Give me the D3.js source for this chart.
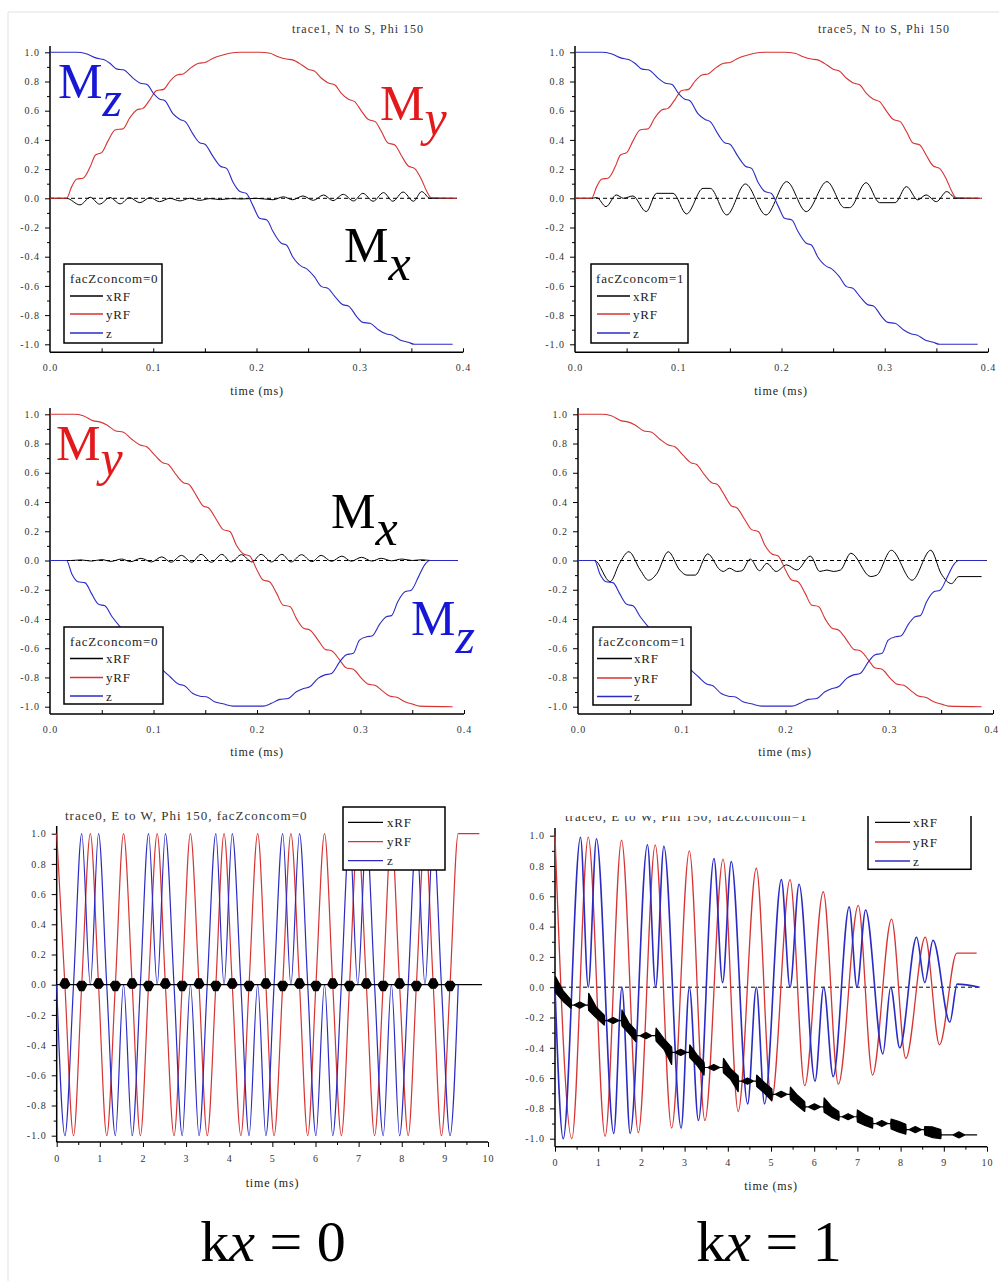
<!DOCTYPE html>
<html><head><meta charset="utf-8">
<script src="https://cdn.jsdelivr.net/npm/d3@7"></script>
<style>
body{margin:0;background:#fff}
svg{display:block}
text{font-family:"Liberation Serif","Times New Roman",serif;white-space:pre}
</style>
</head><body>
<svg id="c" width="999" height="1281"></svg>
<script>
// ---------------- DATA ----------------
const yTickVals = [1.0,0.8,0.6,0.4,0.2,0.0,-0.2,-0.4,-0.6,-0.8,-1.0];
const yMinorVals = [0.9,0.7,0.5,0.3,0.1,-0.1,-0.3,-0.5,-0.7,-0.9];
const topTimeTicks = [0,0.1,0.2,0.3,0.4];
const topTimeMinor = [0.05,0.1,0.15,0.2,0.25,0.3,0.35,0.4];
const ewTimeTicks = [0,1,2,3,4,5,6,7,8,9,10];
const ewTimeMinor = [0.5,1.5,2.5,3.5,4.5,5.5,6.5,7.5,8.5,9.5];
const seriesNames = ["xRF","yRF","z"];

// N to S traces (top row): yRF rises 0->1->0, z falls 1->-1
const nsMyRise = [[0,0],[0.016,0],[0.021,0.08],[0.026,0.132],[0.032,0.137],[0.039,0.217],[0.044,0.297],[0.05,0.313],[0.056,0.39],[0.063,0.468],[0.071,0.477],[0.077,0.548],[0.084,0.605],[0.09,0.616],[0.097,0.678],[0.103,0.737],[0.11,0.746],[0.116,0.8],[0.123,0.845],[0.129,0.852],[0.137,0.897],[0.144,0.925],[0.15,0.93],[0.158,0.96],[0.165,0.977],[0.174,0.993],[0.184,1.0],[0.203,1.0],[0.213,0.993],[0.221,0.97],[0.229,0.954],[0.235,0.948],[0.244,0.913],[0.25,0.884],[0.256,0.872],[0.263,0.822],[0.269,0.792],[0.276,0.776],[0.282,0.72],[0.289,0.678],[0.295,0.662],[0.302,0.594],[0.308,0.541],[0.315,0.525],[0.321,0.457],[0.327,0.381],[0.334,0.365],[0.34,0.297],[0.347,0.221],[0.353,0.205],[0.36,0.126],[0.365,0.046],[0.369,0.005],[0.394,0]];
const nsMzFall = [[0,1.0],[0.026,1.0],[0.035,0.99],[0.045,0.96],[0.052,0.95],[0.058,0.925],[0.065,0.885],[0.071,0.88],[0.081,0.82],[0.087,0.79],[0.094,0.78],[0.1,0.72],[0.106,0.68],[0.111,0.67],[0.119,0.58],[0.126,0.54],[0.131,0.525],[0.139,0.434],[0.145,0.38],[0.15,0.37],[0.158,0.285],[0.165,0.22],[0.171,0.205],[0.177,0.114],[0.184,0.046],[0.19,0.034],[0.197,-0.057],[0.203,-0.137],[0.21,-0.148],[0.216,-0.228],[0.224,-0.308],[0.229,-0.32],[0.235,-0.4],[0.244,-0.468],[0.248,-0.48],[0.256,-0.537],[0.263,-0.605],[0.269,-0.616],[0.276,-0.673],[0.284,-0.73],[0.289,-0.737],[0.297,-0.81],[0.303,-0.85],[0.31,-0.856],[0.318,-0.9],[0.326,-0.93],[0.331,-0.936],[0.339,-0.97],[0.347,-0.986],[0.353,-1.0],[0.39,-1.0]];
const ns0MxRF = [[0,0],[0.016,0],[0.029,-0.045],[0.039,0.007],[0.048,-0.04],[0.058,0.005],[0.068,-0.038],[0.077,0.005],[0.087,-0.03],[0.097,0.005],[0.106,-0.023],[0.116,0],[0.126,-0.018],[0.135,0],[0.145,-0.014],[0.155,-0.002],[0.165,-0.009],[0.175,-0.002],[0.185,-0.005],[0.2,0],[0.216,-0.01],[0.226,0.01],[0.235,-0.01],[0.245,0.016],[0.255,-0.014],[0.265,0.023],[0.274,-0.016],[0.284,0.027],[0.294,-0.018],[0.303,0.034],[0.313,-0.02],[0.323,0.039],[0.332,-0.02],[0.342,0.043],[0.352,-0.02],[0.36,0.046],[0.368,0],[0.394,0]];
const ns1MxRF = [[0,0],[0.016,0],[0.021,0.005],[0.03,-0.057],[0.04,0.023],[0.047,0],[0.056,0.016],[0.069,-0.091],[0.079,0.034],[0.095,0.034],[0.108,-0.107],[0.124,0.068],[0.131,0.068],[0.147,-0.114],[0.165,0.098],[0.185,-0.114],[0.205,0.114],[0.224,-0.091],[0.244,0.114],[0.261,-0.064],[0.266,-0.064],[0.282,0.107],[0.295,-0.03],[0.31,-0.03],[0.321,0.08],[0.332,-0.011],[0.34,0.023],[0.35,-0.023],[0.36,0.046],[0.369,0],[0.392,0]];

// second row: yRF falls 1->-1, z dips 0->-1->0
const ns2MyFall = [[0,1],[0.023,1],[0.032,0.99],[0.042,0.955],[0.048,0.948],[0.055,0.927],[0.063,0.888],[0.071,0.877],[0.079,0.829],[0.087,0.79],[0.093,0.779],[0.101,0.722],[0.109,0.669],[0.114,0.658],[0.122,0.585],[0.129,0.532],[0.134,0.521],[0.142,0.437],[0.148,0.373],[0.153,0.361],[0.161,0.277],[0.167,0.213],[0.174,0.197],[0.18,0.106],[0.187,0.045],[0.193,0.031],[0.2,-0.065],[0.206,-0.134],[0.212,-0.145],[0.219,-0.225],[0.225,-0.304],[0.232,-0.316],[0.238,-0.396],[0.245,-0.464],[0.251,-0.475],[0.259,-0.544],[0.266,-0.608],[0.272,-0.617],[0.28,-0.681],[0.286,-0.733],[0.293,-0.744],[0.301,-0.806],[0.307,-0.845],[0.314,-0.854],[0.322,-0.897],[0.328,-0.927],[0.335,-0.936],[0.343,-0.966],[0.351,-0.984],[0.357,-0.996],[0.389,-1.0]];
const ns2MzDip = [[0,0],[0.016,0],[0.021,-0.09],[0.027,-0.145],[0.034,-0.153],[0.04,-0.225],[0.047,-0.3],[0.053,-0.31],[0.06,-0.385],[0.068,-0.455],[0.074,-0.5],[0.08,-0.53],[0.087,-0.6],[0.093,-0.66],[0.1,-0.68],[0.109,-0.75],[0.116,-0.795],[0.124,-0.845],[0.13,-0.857],[0.138,-0.91],[0.145,-0.928],[0.151,-0.932],[0.159,-0.966],[0.167,-0.98],[0.177,-0.996],[0.206,-0.996],[0.214,-0.977],[0.222,-0.95],[0.23,-0.944],[0.238,-0.898],[0.245,-0.876],[0.251,-0.864],[0.259,-0.806],[0.265,-0.784],[0.272,-0.773],[0.28,-0.692],[0.286,-0.646],[0.293,-0.635],[0.299,-0.544],[0.306,-0.521],[0.311,-0.517],[0.319,-0.43],[0.325,-0.384],[0.33,-0.377],[0.336,-0.282],[0.343,-0.214],[0.349,-0.203],[0.356,-0.112],[0.362,-0.03],[0.367,0],[0.393,0]];
const ns2MxRF = [[0,0],[0.02,0],[0.03,0.004],[0.04,-0.004],[0.05,0.006],[0.059,-0.006],[0.069,0.01],[0.078,-0.008],[0.088,0.015],[0.098,-0.01],[0.108,0.025],[0.117,-0.012],[0.127,0.035],[0.137,-0.012],[0.146,0.042],[0.156,-0.012],[0.166,0.042],[0.175,-0.01],[0.185,0.04],[0.195,-0.01],[0.204,0.042],[0.214,-0.01],[0.224,0.042],[0.233,-0.01],[0.243,0.04],[0.253,-0.008],[0.262,0.035],[0.272,-0.006],[0.282,0.03],[0.291,-0.005],[0.301,0.022],[0.311,-0.004],[0.32,0.015],[0.33,-0.002],[0.34,0.01],[0.35,0],[0.359,0.005],[0.368,0],[0.39,0]];
const ns3MxRF = [[0,0],[0.016,0],[0.031,-0.145],[0.04,-0.02],[0.049,0.06],[0.06,-0.065],[0.068,-0.135],[0.076,-0.09],[0.087,0.06],[0.098,-0.065],[0.105,-0.1],[0.113,-0.1],[0.125,0.045],[0.137,-0.065],[0.14,-0.075],[0.146,-0.053],[0.153,-0.075],[0.158,-0.07],[0.166,0.01],[0.175,-0.07],[0.182,-0.02],[0.191,-0.075],[0.201,-0.03],[0.211,-0.065],[0.224,0.03],[0.233,-0.075],[0.24,-0.065],[0.246,-0.075],[0.253,-0.065],[0.263,0.05],[0.282,-0.11],[0.288,-0.1],[0.302,0.07],[0.322,-0.135],[0.34,0.07],[0.35,-0.09],[0.36,-0.158],[0.367,-0.11],[0.389,-0.11]];

// E to W traces (bottom row), sampled at quarter periods
const ewTime = [0,0.19,0.39,0.58,0.78,0.97,1.16,1.36,1.55,1.75,1.94,2.13,2.33,2.52,2.72,2.91,3.10,3.30,3.49,3.69,3.88,4.07,4.27,4.46,4.66,4.85,5.04,5.24,5.43,5.63,5.82,6.01,6.21,6.40,6.60,6.79,6.98,7.18,7.37,7.57,7.76,7.95,8.15,8.34,8.54,8.73,8.92,9.12,9.31];
const ew0My = [1,0,-1,0, 1,0,-1,0, 1,0,-1,0, 1,0,-1,0, 1,0,-1,0, 1,0,-1,0, 1,0,-1,0, 1,0,-1,0, 1,0,-1,0, 1,0,-1,0, 1,0,-1,0, 1,0,-1,0, 1];
const ew0MyTail = [[9.8,1]];
const ew0Mz = [0,-1,0,1,0,1,0,-1, 0,-1,0,1,0,1,0,-1, 0,-1,0,1,0,1,0,-1, 0,-1,0,1,0,1,0,-1, 0,-1,0,1,0,1,0,-1, 0,-1,0,1,0,1,0,-1, 0];
const ew0BlobTime = [0.19,0.58,0.97,1.36,1.75,2.13,2.52,2.91,3.30,3.69,4.07,4.46,4.85,5.24,5.63,6.01,6.40,6.79,7.18,7.57,7.95,8.34,8.73,9.12];
const ew0BlobSide = [1,-1,1,-1,1,-1,1,-1,1,-1,1,-1,1,-1,1,-1,1,-1,1,-1,1,-1,1,-1];
const ew0XEnd = 9.85;

const ew1My = [[0,1.0],[0.39,-1.0],[0.77,0.99],[1.16,-0.985],[1.54,0.97],[1.93,-0.96],[2.32,0.94],[2.7,-0.93],[3.11,0.9],[3.47,-0.88],[3.89,0.845],[4.24,-0.82],[4.66,0.785],[5.01,-0.75],[5.44,0.71],[5.78,-0.65],[6.21,0.63],[6.56,-0.64],[7.02,0.54],[7.35,-0.58],[7.79,0.45],[8.12,-0.47],[8.57,0.33],[8.9,-0.38],[9.3,0.225],[9.76,0.225]];
const ew1Mz = [[0,0],[0.19,-1.0],[0.59,0.99],[0.77,0],[0.96,0.98],[1.36,-0.965],[1.55,0],[1.74,-0.965],[2.14,0.94],[2.33,0],[2.52,0.93],[2.92,-0.93],[3.11,0],[3.32,-0.88],[3.68,0.85],[3.88,0.03],[4.08,0.83],[4.46,-0.77],[4.66,0],[4.85,-0.77],[5.24,0.71],[5.44,0],[5.65,0.68],[6.02,-0.62],[6.22,0],[6.44,-0.59],[6.81,0.53],[6.99,0],[7.19,0.51],[7.59,-0.44],[7.77,0],[7.98,-0.4],[8.37,0.33],[8.56,0.03],[8.75,0.31],[9.14,-0.23],[9.31,0.02],[9.83,0]];
const ew1XLevel = [0,-0.118,-0.22,-0.32,-0.43,-0.53,-0.62,-0.707,-0.79,-0.855,-0.9,-0.94,-0.975];
const ew1XBlob = [[0.0,0.38,0.07,-0.14],[0.77,1.15,-0.04,-0.25],[1.54,1.88,-0.15,-0.36],[2.33,2.71,-0.27,-0.51],[3.11,3.46,-0.38,-0.58],[3.89,4.25,-0.47,-0.69],[4.66,5.03,-0.58,-0.75],[5.44,5.79,-0.66,-0.82],[6.22,6.58,-0.73,-0.88],[6.99,7.36,-0.81,-0.93],[7.77,8.13,-0.87,-0.97],[8.55,8.94,-0.92,-1.0]];
const ew1XEnd = 9.76;
const zeroRefTop = [[0,0],[0.394,0]];
const zeroRefEW = [[0,0],[9.8,0]];

// ---------------- DRAWING ----------------
const RED = "#d63333", BLUE = "#2b2bc4", LRED = "#e3191c", LBLUE = "#1717d6";
const svg = d3.select("#c");
svg.append("defs").append("clipPath").attr("id","clip6")
  .append("rect").attr("x",500).attr("y",816).attr("width",499).attr("height",465);

// faint frame
svg.append("line").attr("x1",8).attr("y1",12).attr("x2",999).attr("y2",12).attr("stroke","#e2e2e2");
svg.append("line").attr("x1",8).attr("y1",12).attr("x2",8).attr("y2",1281).attr("stroke","#e2e2e2");

function styleAxis(sel){
  sel.attr("font-family","Liberation Serif, serif");
  sel.select(".domain").remove();
  sel.selectAll("line").attr("stroke","#000");
  sel.selectAll("text").attr("fill","#333").attr("font-size",10).attr("letter-spacing",1);
}

function makePanel(c){
  const g = svg.append("g");
  if (c.clip) g.attr("clip-path","url(#clip6)");
  const x = d3.scaleLinear().domain(c.xDomain).range([c.x0,c.x1]);
  const y = d3.scaleLinear().domain([-1,1]).range([c.yMinus,c.yPlus]);
  g.append("g").attr("transform",`translate(${c.x0},0)`)
    .call(d3.axisLeft(y).tickValues(yTickVals).tickSize(5).tickPadding(5).tickFormat(d=>d.toFixed(1)))
    .call(styleAxis);
  g.append("g").attr("transform",`translate(${c.x0},0)`)
    .call(d3.axisLeft(y).tickValues(yMinorVals).tickSize(3).tickFormat(""))
    .call(styleAxis);
  const xa = g.append("g").attr("transform",`translate(0,${c.axisY})`)
    .call(d3.axisBottom(x).tickValues(c.xTicks).tickSize(c.bottomTicks?5:0).tickPadding(c.xPad).tickFormat(c.xFmt))
    .call(styleAxis);
  if (c.lastTickEnd) {
    xa.selectAll(".tick").filter((d,i,n)=>i===n.length-1).select("text")
      .attr("text-anchor","end").attr("x",5).attr("letter-spacing",0.5);
  }
  g.append("g").attr("transform",`translate(0,${c.axisY})`)
    .call((c.bottomTicks ? d3.axisBottom(x).tickSize(3) : d3.axisTop(x).tickSize(4)).tickValues(c.xMinor).tickFormat(""))
    .call(styleAxis);
  g.append("line").attr("x1",c.x0).attr("x2",c.x0).attr("y1",c.axisY).attr("y2",c.yTop)
    .attr("stroke","#000").attr("stroke-width",1.5);
  g.append("line").attr("x1",c.x0).attr("x2",c.x1).attr("y1",c.axisY).attr("y2",c.axisY)
    .attr("stroke","#000").attr("stroke-width",1.5);
  g.append("text").attr("x",c.labelX).attr("y",c.labelY).attr("text-anchor","middle")
    .attr("font-size",12).attr("letter-spacing",0.8).attr("fill","#222").text("time (ms)");
  return {g,x,y};
}

function drawLine(p, data, color, w, curve, dash){
  const l = d3.line().x(d=>p.x(d[0])).y(d=>p.y(d[1])).curve(curve||d3.curveMonotoneX);
  const path = p.g.append("path").datum(data).attr("d",l).attr("fill","none")
    .attr("stroke",color).attr("stroke-width",w).attr("stroke-linejoin","round");
  if (dash) path.attr("stroke-dasharray",dash);
  return path;
}
function drawEnv(p, env){
  const a = d3.area().x(d=>p.x(d[0])).y0(d=>p.y(d[1])).y1(d=>p.y(d[2]));
  p.g.append("path").datum(env).attr("d",a).attr("fill","#000").attr("stroke","#000").attr("stroke-width",1.2).attr("stroke-linejoin","round");
}

function legend(p, box, title, rows, lx0, lx1, tx){
  p.g.append("rect").attr("x",box[0]).attr("y",box[1]).attr("width",box[2]).attr("height",box[3])
    .attr("fill","#fff").attr("stroke","#000").attr("stroke-width",1.5);
  if (title) p.g.append("text").attr("x",title[1]).attr("y",title[2]).attr("dominant-baseline","central")
    .attr("font-size",13).attr("letter-spacing",0.8).attr("fill","#222").text(title[0]);
  const cols = ["#000",RED,BLUE];
  rows.forEach((ry,i)=>{
    p.g.append("line").attr("x1",lx0).attr("x2",lx1).attr("y1",ry).attr("y2",ry)
      .attr("stroke",cols[i]).attr("stroke-width",1.3);
    p.g.append("text").attr("x",tx).attr("y",ry).attr("dominant-baseline","central")
      .attr("font-size",13).attr("letter-spacing",0.8).attr("fill","#222").text(seriesNames[i]);
  });
}

function bigM(sub, x, y, dy, color){
  const t = svg.append("text").attr("x",x).attr("y",y).attr("font-size",50).attr("fill",color);
  t.append("tspan").text("M");
  t.append("tspan").attr("font-style","italic").attr("dy",dy).text(sub);
}

const fmt1 = d=>d.toFixed(1);
// ---- Panel 1
const p1 = makePanel({x0:50,x1:463,xDomain:[0,0.4],yPlus:52.3,yMinus:344.3,axisY:352.3,yTop:46,
  xTicks:topTimeTicks,xMinor:topTimeMinor,xFmt:fmt1,xPad:12,labelX:257,labelY:394.5});
drawLine(p1, zeroRefTop, "#000", 1, d3.curveLinear, "4,3");
drawLine(p1, ns0MxRF, "#000", 1);
drawLine(p1, nsMyRise, RED, 1.1);
drawLine(p1, nsMzFall, BLUE, 1.1);
legend(p1,[64,264,98,79],["facZconcom=0",70,278],[296,314,333],70,103,106);
p1.g.append("text").attr("x",358).attr("y",33).attr("text-anchor","middle").attr("font-size",12).attr("letter-spacing",1).attr("fill","#333").text("trace1, N to S, Phi 150");

// ---- Panel 2
const p2 = makePanel({x0:575,x1:988,xDomain:[0,0.4],yPlus:52.3,yMinus:344.3,axisY:352.3,yTop:46,
  xTicks:topTimeTicks,xMinor:topTimeMinor,xFmt:fmt1,xPad:12,labelX:781,labelY:394.5});
drawLine(p2, zeroRefTop, "#000", 1, d3.curveLinear, "4,3");
drawLine(p2, ns1MxRF, "#000", 1);
drawLine(p2, nsMyRise, RED, 1.1);
drawLine(p2, nsMzFall, BLUE, 1.1);
legend(p2,[591,264,97,79],["facZconcom=1",596,278],[296,314,333],597,630,633);
p2.g.append("text").attr("x",884).attr("y",33).attr("text-anchor","middle").attr("font-size",12).attr("letter-spacing",1).attr("fill","#333").text("trace5, N to S, Phi 150");

// ---- Panel 3
const p3 = makePanel({x0:50,x1:464,xDomain:[0,0.4],yPlus:414.3,yMinus:706.7,axisY:714,yTop:408,
  xTicks:topTimeTicks,xMinor:topTimeMinor,xFmt:fmt1,xPad:12,labelX:257,labelY:756});
drawLine(p3, zeroRefTop, "#000", 1, d3.curveLinear, "4,3");
drawLine(p3, ns2MxRF, "#000", 1);
drawLine(p3, ns2MyFall, RED, 1.1);
drawLine(p3, ns2MzDip, BLUE, 1.1);
legend(p3,[64,627,99,77],["facZconcom=0",70,641],[658.5,677.5,696],70,103,106);

// ---- Panel 4
const p4 = makePanel({x0:578,x1:993,xDomain:[0,0.4],yPlus:414.3,yMinus:706.7,axisY:714,yTop:408,
  xTicks:topTimeTicks,xMinor:topTimeMinor,xFmt:fmt1,xPad:12,labelX:785,labelY:756,lastTickEnd:true});
drawLine(p4, zeroRefTop, "#000", 1, d3.curveLinear, "4,3");
drawLine(p4, ns3MxRF, "#000", 1);
drawLine(p4, ns2MyFall, RED, 1.1);
drawLine(p4, ns2MzDip, BLUE, 1.1);
legend(p4,[593,627,98,78],["facZconcom=1",598,641],[658.5,678,696.5],597,632,634);

// ---- Panel 5
const p5 = makePanel({x0:56.7,x1:488,xDomain:[0,10],yPlus:833.7,yMinus:1135.7,axisY:1142,yTop:826,
  xTicks:ewTimeTicks,xMinor:ewTimeMinor,xFmt:d=>String(d),xPad:8,bottomTicks:true,labelX:272.5,labelY:1187});
drawLine(p5, ewTime.map((t,i)=>[t,ew0My[i]]).concat(ew0MyTail), RED, 1.2);
drawLine(p5, ewTime.map((t,i)=>[t,ew0Mz[i]]), BLUE, 1.2);
(function(){
  const env = [[0,0,0]];
  ew0BlobTime.forEach((tc,i)=>{
    const c = ew0BlobSide[i]*0.008;
    env.push([tc-0.12,0,0],[tc-0.05,c-0.031,c+0.031],[tc+0.05,c-0.031,c+0.031],[tc+0.12,0,0]);
  });
  env.push([ew0XEnd,0,0]);
  drawEnv(p5, env);
})();
legend(p5,[343,807,102,63],null,[822.3,841.7,860.7],348,383,387);
p5.g.append("text").attr("x",65).attr("y",819.5).attr("font-size",13).attr("letter-spacing",1).attr("fill","#333").text("trace0, E to W, Phi 150, facZconcom=0");

// ---- Panel 6
const p6 = makePanel({x0:555,x1:987,xDomain:[0,10],yPlus:835.7,yMinus:1138.7,axisY:1146.7,yTop:828,
  xTicks:ewTimeTicks,xMinor:ewTimeMinor,xFmt:d=>String(d),xPad:7,bottomTicks:true,labelX:771,labelY:1190,clip:true});
drawLine(p6, zeroRefEW, "#000", 1, d3.curveLinear, "4,3");
drawLine(p6, ew1My, RED, 1.3);
drawLine(p6, ew1Mz, BLUE, 1.6);
(function(){
  const env = [[0,ew1XLevel[0],ew1XLevel[0]]];
  ew1XBlob.forEach((b,k)=>{
    const [t0,t1,top,bot] = b, Lp = ew1XLevel[k], Ln = ew1XLevel[k+1];
    const tm = (t0+t1)/2, mid = (Lp+Ln)/2;
    if (t0 > env[env.length-1][0]) env.push([t0,Lp,Lp]);
    env.push([t0+0.01,Lp-0.035,top],[tm,mid-0.035,mid+0.035],[t1-0.01,bot,Ln+0.035],[t1,Ln,Ln]);
    const tNext = k+1 < ew1XBlob.length ? ew1XBlob[k+1][0] : ew1XEnd;
    const tc = (t1+tNext)/2;
    env.push([tc-0.14,Ln,Ln],[tc,Ln-0.02,Ln+0.02],[tc+0.14,Ln,Ln]);
  });
  const last = ew1XLevel[ew1XLevel.length-1];
  env.push([ew1XEnd,last,last]);
  drawEnv(p6, env);
})();
legend(p6,[868,808,103,61.3],null,[822.3,842,861],875,910,913);
p6.g.append("text").attr("x",565).attr("y",821).attr("font-size",13).attr("letter-spacing",1).attr("fill","#333").text("trace0, E to W, Phi 150, facZconcom=1");

// ---- Big annotation labels
bigM("z",58,98,18,LBLUE);
bigM("y",380,120,15,LRED);
bigM("x",344,262,18,"#000");
bigM("y",56,460,15,LRED);
bigM("x",331,528,17,"#000");
bigM("z",411,635,18,LBLUE);

function kxLabel(cx, val){
  const t = svg.append("text").attr("x",cx).attr("y",1261).attr("text-anchor","middle").attr("font-size",58).attr("fill","#000");
  t.append("tspan").text("k");
  t.append("tspan").attr("font-style","italic").text("x");
  t.append("tspan").text(" = " + val);
}
kxLabel(273,"0");
kxLabel(769,"1");
</script>
</body></html>
